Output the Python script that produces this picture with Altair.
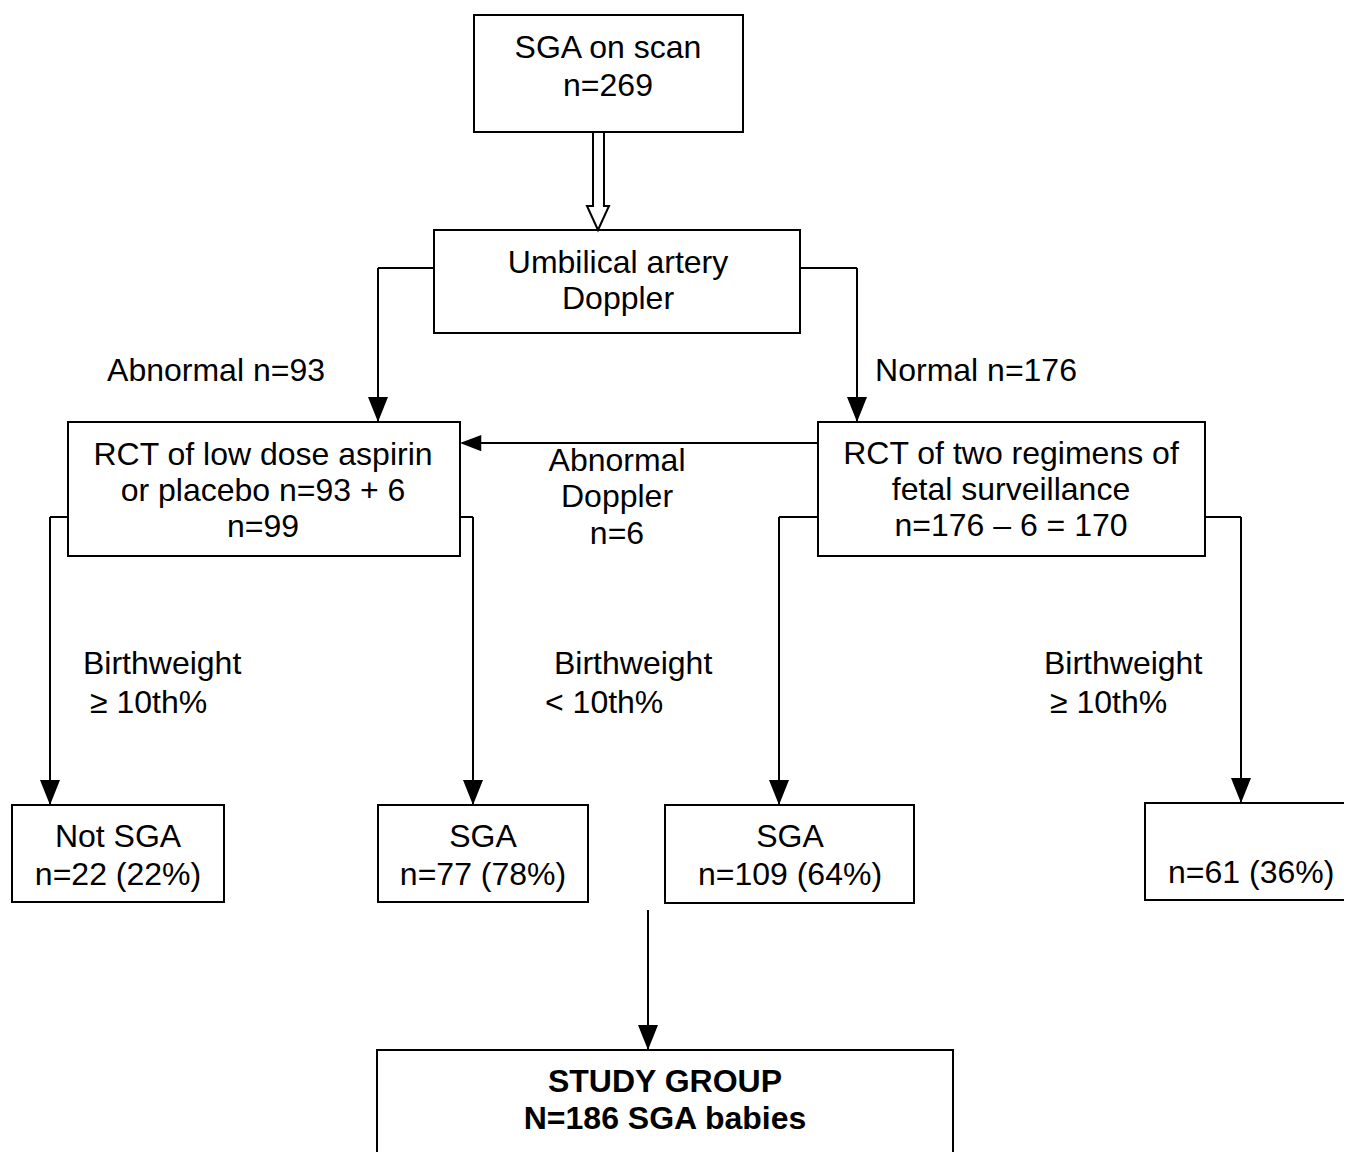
import altair as alt
import pandas as pd

# ---- boxes (left, right, top, bottom) in page pixels ----
box_x1 = [474, 434, 68, 818, 12, 378, 665, 1145, 377]
box_x2 = [743, 800, 460, 1205, 224, 588, 914, 1400, 953]
box_y1 = [15, 230, 422, 422, 805, 805, 805, 803, 1050]
box_y2 = [132, 333, 556, 556, 902, 902, 903, 900, 1250]

# ---- connector segments ----
seg_x1 = [434, 378, 800, 857, 818, 68, 50, 460, 473, 818, 779, 1204, 1241, 648]
seg_y1 = [268, 268, 268, 268, 443, 517, 517, 517, 517, 517, 517, 517, 517, 910]
seg_x2 = [378, 378, 857, 857, 462, 50, 50, 473, 473, 779, 779, 1241, 1241, 648]
seg_y2 = [268, 422, 268, 422, 443, 517, 805, 517, 805, 517, 805, 517, 803, 1050]

# ---- arrow tips ----
down_tip_x = [378, 857, 50, 473, 779, 1241, 648]
down_tip_y = [422, 422, 805, 805, 805, 803, 1050]
left_tip_x = [460]
left_tip_y = [443]

# ---- hollow arrow outline ----
hollow_x = [593, 593, 587, 598, 609, 604, 604]
hollow_y = [132, 206, 206, 230, 206, 206, 132]

# ---- centred texts ----
ctext = ["SGA on scan", "n=269",
         "Umbilical artery", "Doppler",
         "Abnormal n=93", "Normal n=176",
         "RCT of low dose aspirin", "or placebo n=93 + 6", "n=99",
         "RCT of two regimens of", "fetal surveillance", "n=176 \u2013 6 = 170",
         "Abnormal", "Doppler", "n=6",
         "Not SGA", "n=22 (22%)",
         "SGA", "n=77 (78%)",
         "SGA", "n=109 (64%)"]
ctext_x = [608, 608, 618, 618, 216, 976, 263, 263, 263, 1011, 1011, 1011,
           617, 617, 617, 118, 118, 483, 483, 790, 790]
ctext_y = [58, 96, 273, 309, 381, 381, 465, 501, 537, 464, 500, 536,
           471, 507, 544, 847, 885, 847, 885, 847, 885]

# ---- left-aligned texts ----
ltext = ["Birthweight", "\u2265 10th%", "Birthweight", "< 10th%",
         "Birthweight", "\u2265 10th%", "n=61 (36%)"]
ltext_x = [83, 90, 554, 545, 1044, 1050, 1168]
ltext_y = [674, 713, 674, 713, 674, 713, 883]

# ---- bold texts ----
btext = ["STUDY GROUP", "N=186 SGA babies"]
btext_x = [665, 665]
btext_y = [1092, 1129]

W, H = 1336, 1144
xs = alt.Scale(domain=[8, 8 + W], nice=False, zero=False)
ys = alt.Scale(domain=[8, 8 + H], nice=False, zero=False, reverse=True)
FONT = "Liberation Sans"
FS = 32

boxes = pd.DataFrame({"x": box_x1, "x2": box_x2, "y": box_y1, "y2": box_y2})
segs = pd.DataFrame({"x": seg_x1, "x2": seg_x2, "y": seg_y1, "y2": seg_y2})
downs = pd.DataFrame({"x": down_tip_x, "y": down_tip_y})
lefts = pd.DataFrame({"x": left_tip_x, "y": left_tip_y})
hollow = pd.DataFrame({"x": hollow_x, "y": hollow_y, "o": list(range(len(hollow_x)))})
ct = pd.DataFrame({"x": ctext_x, "y": ctext_y, "t": ctext})
lt = pd.DataFrame({"x": ltext_x, "y": ltext_y, "t": ltext})
bt = pd.DataFrame({"x": btext_x, "y": btext_y, "t": btext})

X = lambda f="x": alt.X(f"{f}:Q", scale=xs, axis=None)
Y = lambda f="y": alt.Y(f"{f}:Q", scale=ys, axis=None)

rects = alt.Chart(boxes).mark_rect(fill="white", stroke="black", strokeWidth=2, clip=True).encode(
    x=X(), x2="x2:Q", y=Y(), y2="y2:Q")

rules = alt.Chart(segs).mark_rule(color="black", strokeWidth=2).encode(
    x=X(), x2="x2:Q", y=Y(), y2="y2:Q")

down_heads = alt.Chart(downs).mark_point(
    shape="M-0.8,-2L0.8,-2L0,0Z", size=625, filled=True, color="black", opacity=1, strokeWidth=0
).encode(x=X(), y=Y())

left_heads = alt.Chart(lefts).mark_point(
    shape="M0,0L1.7,-0.65L1.7,0.65Z", size=625, filled=True, color="black", opacity=1, strokeWidth=0
).encode(x=X(), y=Y())

hollow_arrow = alt.Chart(hollow).mark_line(color="black", strokeWidth=2).encode(
    x=X(), y=Y(), order="o:Q")

ctexts = alt.Chart(ct).mark_text(font=FONT, fontSize=FS, align="center", baseline="alphabetic",
                                  color="black").encode(x=X(), y=Y(), text="t:N")
ltexts = alt.Chart(lt).mark_text(font=FONT, fontSize=FS, align="left", baseline="alphabetic",
                                  color="black").encode(x=X(), y=Y(), text="t:N")
btexts = alt.Chart(bt).mark_text(font=FONT, fontSize=FS, fontWeight="bold", align="center",
                                  baseline="alphabetic", color="black").encode(x=X(), y=Y(), text="t:N")

chart = alt.layer(rules, rects, down_heads, left_heads, hollow_arrow, ctexts, ltexts, btexts).properties(
    width=W, height=H, padding=0, autosize=alt.AutoSizeParams(type="none"), background="white"
).configure_view(stroke=None)

chart.save("out.html", embed_options={"renderer": "svg", "actions": False})
